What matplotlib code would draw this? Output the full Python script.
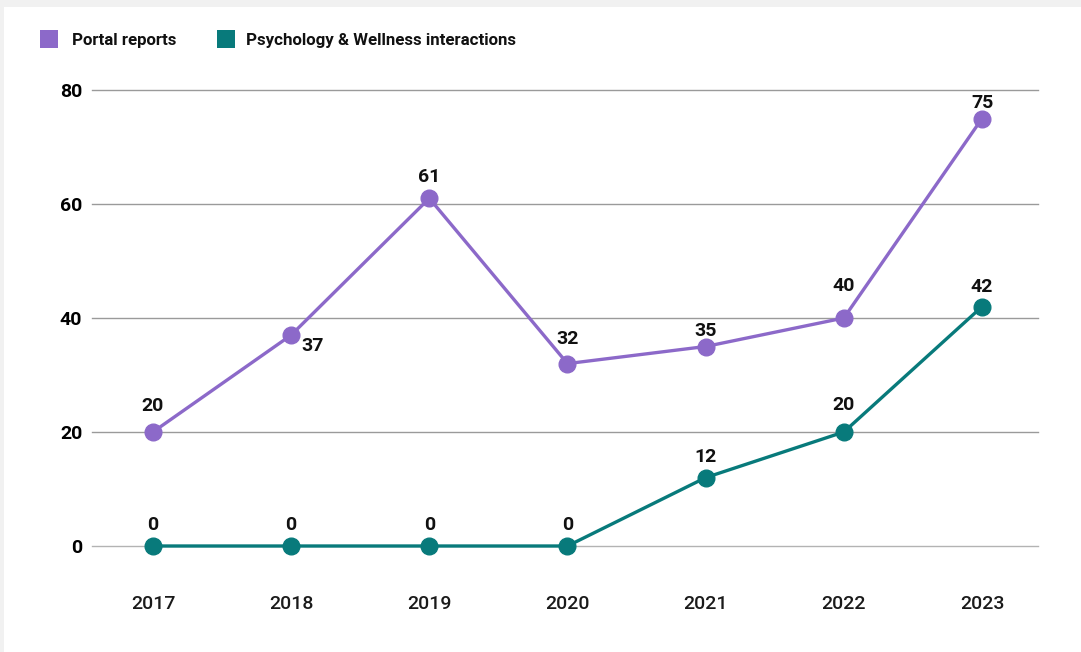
import matplotlib.pyplot as plt
from matplotlib.patches import Rectangle

years = [2017, 2018, 2019, 2020, 2021, 2022, 2023]
portal_reports = [20, 37, 61, 32, 35, 40, 75]
wellness_interactions = [0, 0, 0, 0, 12, 20, 42]
series_names = ["Portal reports", "Psychology & Wellness interactions"]
y_ticks = [0, 20, 40, 60, 80]

PURPLE = "#8c69c9"
TEAL = "#087a7b"

plt.rcParams["font.family"] = ["Roboto", "DejaVu Sans"]

fig = plt.figure(figsize=(10.81, 6.52), dpi=100, facecolor="#f1f1f1")
# white card inset from the grey frame
fig.patches.append(Rectangle((4 / 1081, 0), 1, 645 / 652, transform=fig.transFigure,
                             facecolor="white", edgecolor="none", zorder=-5))

ax = fig.add_axes([92 / 1081, 106 / 652, 946 / 1081, 456 / 652])
ax.set_facecolor("none")
ax.set_xlim(2017 - 0.441, 2023 + 0.405)
ax.set_ylim(0, 80)

for s in ax.spines.values():
    s.set_visible(False)
ax.set_yticks(y_ticks)
ax.set_xticks(years)
ax.set_xticklabels([str(y) for y in years])
ax.tick_params(axis="y", length=0, pad=7, labelsize=14)
ax.tick_params(axis="x", length=0, pad=35, labelsize=14)
for lbl in ax.get_yticklabels():
    lbl.set_fontweight("bold")
for lbl in ax.get_xticklabels():
    lbl.set_fontweight("medium")
    lbl.set_color("#1a1a1a")
for y in y_ticks:
    ax.axhline(y, color="#9a9a9a" if y else "#b3b3b3", lw=1, zorder=1, clip_on=False)

ax.plot(years, portal_reports, color=PURPLE, lw=2.4, marker="o", ms=12,
        clip_on=False, zorder=3)
ax.plot(years, wellness_interactions, color=TEAL, lw=2.4, marker="o", ms=12,
        clip_on=False, zorder=3)

# value label offsets in pixels (dx, dy), positive dy is up
purple_offsets = [(0, 26), (21, -11), (0, 21), (0, 25), (0, 16), (0, 32), (0, 16)]
teal_offsets = [(0, 21), (0, 21), (0, 21), (0, 21), (0, 21), (0, 27), (0, 20)]
for vals, offs in ((portal_reports, purple_offsets), (wellness_interactions, teal_offsets)):
    for x, v, (dx, dy) in zip(years, vals, offs):
        ax.annotate(str(v), (x, v), xytext=(dx * 0.72, dy * 0.72),
                    textcoords="offset points", ha="center", va="center",
                    fontsize=14, fontweight="bold", color="#111111",
                    zorder=4, annotation_clip=False)

# legend
for name, color, sq_x, tx in ((series_names[0], PURPLE, 40, 72),
                              (series_names[1], TEAL, 217, 246)):
    fig.patches.append(Rectangle((sq_x / 1081, 1 - 48 / 652), 18 / 1081, 18 / 652,
                                 transform=fig.transFigure, facecolor=color,
                                 edgecolor="none", zorder=2))
    fig.text(tx / 1081, 1 - 40 / 652, name, ha="left", va="center",
             fontsize=12.2, fontweight="bold", color="#111111")

fig.savefig("out.png", dpi=100, facecolor=fig.get_facecolor())
